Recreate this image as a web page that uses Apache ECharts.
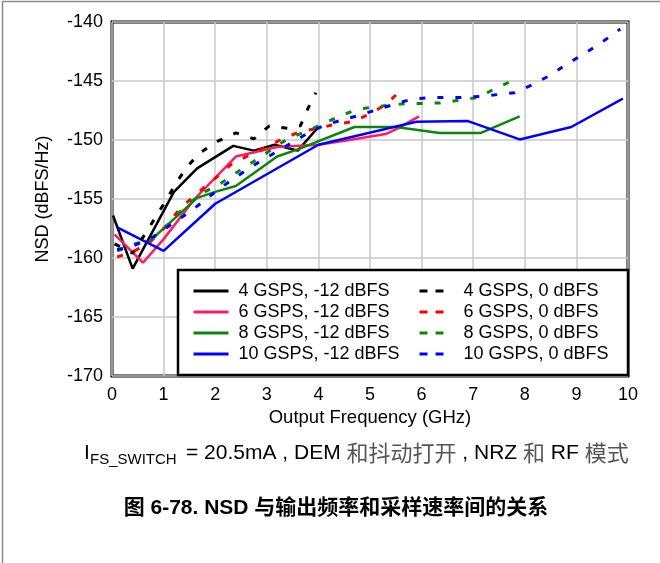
<!DOCTYPE html>
<html>
<head>
<meta charset="utf-8">
<script src="https://cdn.jsdelivr.net/npm/echarts@6/dist/echarts.min.js"></script>
<style>
html, body { margin: 0; padding: 0; background: #fff; }
#chart { width: 660px; height: 563px; }
</style>
</head>
<body>
<div id="chart"></div>
<script>
var latin = '"Liberation Sans", Arial, sans-serif';
var cjk = '"Noto Sans CJK SC", sans-serif';

// NSD (dBFS/Hz) vs output frequency (GHz)
var gsps4m12 = [[0.02,-156.4],[0.4,-160.9],[1.2,-154.4],[1.65,-152.4],[2.35,-150.5],[2.75,-150.9],[3.15,-150.4],[3.6,-150.9],[4.0,-148.9]];
var gsps6m12 = [[0.05,-158.0],[0.6,-160.4],[1.0,-158.4],[1.6,-155.0],[2.4,-151.4],[2.8,-151.0],[3.2,-150.6],[4.0,-150.4],[4.6,-150.0],[5.3,-149.5],[5.5,-149.1],[5.95,-148.0]];
var gsps8m12 = [[0.7,-158.7],[1.65,-154.9],[2.0,-154.4],[2.4,-153.9],[3.2,-151.4],[3.6,-150.8],[4.7,-148.9],[5.5,-148.9],[6.35,-149.4],[7.15,-149.4],[7.9,-148.0]];
var gsps10m12 = [[0.1,-157.4],[1.0,-159.4],[2.0,-155.4],[4.0,-150.4],[5.9,-148.45],[6.9,-148.4],[7.9,-149.95],[8.9,-148.9],[9.9,-146.5]];

var gsps4z = [[0.05,-158.8],[0.4,-159.6],[0.65,-157.9],[0.85,-156.5],[1.05,-155.1],[1.25,-153.6],[1.45,-152.3],[1.7,-151.1],[2.05,-150.1],[2.4,-149.4],[2.75,-149.9],[3.05,-148.8],[3.4,-149.0],[3.65,-148.8],[3.8,-147.3],[3.95,-146.0]];
var gsps6z = [[0.1,-159.9],[0.4,-159.5],[0.75,-158.6],[1.05,-157.3],[1.3,-155.9],[1.65,-154.5],[2.0,-153.25],[2.3,-152.1],[2.65,-151.3],[3.0,-150.6],[3.3,-149.9],[3.65,-149.3],[4.0,-149.0],[4.3,-148.7],[4.65,-148.45],[5.0,-147.8],[5.3,-147.0],[5.65,-145.6]];
var gsps8z = [[0.1,-159.4],[0.48,-158.75],[0.75,-158.5],[1.1,-157.1],[1.4,-155.7],[1.75,-154.5],[2.1,-153.7],[2.4,-152.8],[2.75,-151.8],[3.1,-150.8],[3.4,-149.9],[3.75,-149.3],[4.1,-148.6],[4.4,-148.0],[4.75,-147.4],[5.1,-147.2],[5.45,-147.0],[5.75,-146.9],[6.1,-146.9],[6.4,-146.85],[6.75,-146.6],[7.1,-146.4],[7.4,-145.7],[7.8,-144.9]];
var gsps10z = [[0.1,-159.3],[0.45,-158.9],[0.8,-158.2],[1.1,-157.3],[1.5,-156.1],[1.8,-155.1],[2.12,-154.0],[2.45,-153.0],[2.8,-152.0],[3.15,-151.1],[3.5,-150.2],[3.8,-149.4],[4.15,-148.7],[4.5,-148.25],[4.8,-147.9],[5.15,-147.4],[5.45,-147.0],[5.8,-146.55],[6.15,-146.4],[6.8,-146.4],[7.15,-146.3],[7.8,-146.0],[8.15,-145.3],[8.5,-144.5],[8.8,-143.6],[9.15,-142.7],[9.5,-141.7],[9.85,-140.6]];

var solidNames = ['4 GSPS, -12 dBFS', '6 GSPS, -12 dBFS', '8 GSPS, -12 dBFS', '10 GSPS, -12 dBFS'];
var dashNames = ['4 GSPS, 0 dBFS', '6 GSPS, 0 dBFS', '8 GSPS, 0 dBFS', '10 GSPS, 0 dBFS'];
var solidColors = ['#000000', '#ff1a66', '#0a870a', '#0000ff'];
var dashColors = ['#000000', '#ff0000', '#0a870a', '#0000ff'];

function mkLine(name, data, color, dashed) {
	return {
		name: name,
		type: 'line',
		data: data,
		symbol: 'none',
		showSymbol: false,
		silent: true,
		color: color,
		lineStyle: {
			color: color,
			width: dashed ? 3 : 2.5,
			type: dashed ? [6, 12] : 'solid'
		}
	};
}

var series = [
	mkLine(solidNames[0], gsps4m12, solidColors[0], false),
	mkLine(solidNames[1], gsps6m12, solidColors[1], false),
	mkLine(solidNames[2], gsps8m12, solidColors[2], false),
	mkLine(solidNames[3], gsps10m12, solidColors[3], false),
	mkLine(dashNames[0], gsps4z, dashColors[0], true),
	mkLine(dashNames[1], gsps6z, dashColors[1], true),
	mkLine(dashNames[2], gsps8z, dashColors[2], true),
	mkLine(dashNames[3], gsps10z, dashColors[3], true)
];

var legendBase = {
	orient: 'vertical',
	top: 282,
	padding: 0,
	itemGap: 3,
	itemHeight: 14,
	selectedMode: false,
	z: 10,
	itemStyle: { opacity: 0 },
	textStyle: { fontFamily: latin, fontSize: 18, color: '#000', lineHeight: 18 }
};

var chart = echarts.init(document.getElementById('chart'));
chart.setOption({
	animation: false,
	backgroundColor: '#fff',
	grid: {
		left: 112, top: 22, right: 32, bottom: 187,
		show: true,
		borderColor: '#000',
		borderWidth: 3,
		backgroundColor: 'rgba(0,0,0,0)'
	},
	xAxis: {
		type: 'value',
		min: 0, max: 10, interval: 1,
		axisLine: { show: false },
		axisTick: { show: false },
		axisLabel: { fontFamily: latin, fontSize: 18, color: '#000', margin: 10 },
		splitLine: { lineStyle: { color: '#c8c8c8', width: 1.5 } },
		name: 'Output Frequency (GHz)',
		nameLocation: 'middle',
		nameGap: 31,
		nameTextStyle: { fontFamily: latin, fontSize: 18.5, color: '#000' }
	},
	yAxis: {
		type: 'value',
		min: -170, max: -140, interval: 5,
		axisLine: { show: false },
		axisTick: { show: false },
		axisLabel: { fontFamily: latin, fontSize: 18, color: '#000', margin: 9 },
		splitLine: { lineStyle: { color: '#c8c8c8', width: 1.5 } },
		name: 'NSD (dBFS/Hz)',
		nameLocation: 'middle',
		nameGap: 60,
		nameTextStyle: { fontFamily: latin, fontSize: 18, color: '#000' }
	},
	legend: [
		echarts.util.merge({
			left: 192,
			data: solidNames,
			itemWidth: 35,
			formatter: ' {name}',
			lineStyle: { width: 3 }
		}, legendBase),
		echarts.util.merge({
			left: 418,
			data: dashNames,
			itemWidth: 24,
			formatter: '   {name}',
			lineStyle: { width: 3, type: [8, 8] }
		}, legendBase)
	],
	graphic: [
		{
			type: 'polyline',
			shape: { points: [[2.5, 563], [2.5, 1.5], [660, 1.5]] },
			style: { stroke: '#8a8a8a', lineWidth: 1.5, fill: null },
			silent: true
		},
		{
			type: 'rect',
			z: 5,
			shape: { x: 178, y: 270, width: 450, height: 105 },
			style: { fill: '#fff', stroke: '#000', lineWidth: 2.5 },
			silent: true
		},
		{
			type: 'text',
			x: 84, y: 453,
			style: { text: 'I', font: '21px ' + latin, fill: '#000', align: 'left', verticalAlign: 'middle', textAlign: 'left', textVerticalAlign: 'middle' }
		},
		{
			type: 'text',
			x: 90, y: 459.5,
			style: { text: 'FS_SWITCH', font: '15px ' + latin, fill: '#000', align: 'left', verticalAlign: 'middle', textAlign: 'left', textVerticalAlign: 'middle' }
		},
		{
			type: 'text',
			x: 186, y: 453,
			style: {
				text: '{a|= 20.5mA , DEM }{c|和抖动打开}{a| , NRZ }{c|和}{a| RF }{c|模式}',
				align: 'left', verticalAlign: 'middle', textAlign: 'left', textVerticalAlign: 'middle',
				rich: {
					a: { fontFamily: latin, fontSize: 21, fill: '#000', color: '#000' },
					c: { fontFamily: cjk, fontSize: 22, fill: '#555', color: '#555' }
				}
			}
		},
		{
			type: 'text',
			x: 336, y: 508,
			style: {
				text: '图 6-78. NSD 与输出频率和采样速率间的关系',
				font: 'bold 21px ' + latin + ', ' + cjk,
				fill: '#000',
				align: 'center', verticalAlign: 'middle', textAlign: 'center', textVerticalAlign: 'middle'
			}
		}
	],
	series: series
});
</script>
</body>
</html>
